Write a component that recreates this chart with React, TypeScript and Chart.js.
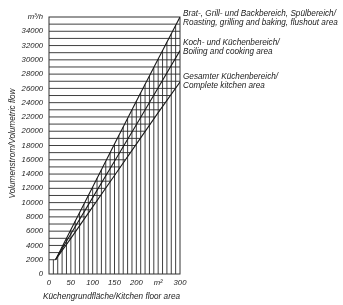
import React, { useEffect, useRef } from "react";
import { Chart, registerables } from "chart.js";

Chart.register(...registerables);

const floorArea = [15, 50, 100, 150, 200, 250, 300];
const roastingFlow = [2000, 6200, 12200, 18200, 24200, 30100, 36000];
const boilingFlow = [2000, 5600, 10700, 15800, 20900, 26100, 31300];
const completeFlow = [2000, 5000, 9400, 13800, 18200, 22600, 26900];

const seriesLabels = [
  ["Brat-, Grill- und Backbereich, Spülbereich/", "Roasting, grilling and baking, flushout area"],
  ["Koch- und Küchenbereich/", "Boiling and cooking area"],
  ["Gesamter Küchenbereich/", "Complete kitchen area"],
];
const xTitle = "Küchengrundfläche/Kitchen floor area";
const yTitle = "Volumenstrom/Volumetric flow";
const xUnitLabel = "m²";
const yUnitLabel = "m³/h";

const FONT = "'Liberation Sans', Arial, sans-serif";
const INK = "#222";

function interpY(xs: number[], ys: number[], x: number) {
  if (x <= xs[0]) return ys[0];
  for (let i = 1; i < xs.length; i++) {
    if (x <= xs[i]) {
      const t = (x - xs[i - 1]) / (xs[i] - xs[i - 1]);
      return ys[i - 1] + t * (ys[i] - ys[i - 1]);
    }
  }
  return ys[ys.length - 1];
}
function interpX(xs: number[], ys: number[], y: number) {
  if (y <= ys[0]) return xs[0];
  for (let i = 1; i < ys.length; i++) {
    if (y <= ys[i]) {
      const t = (y - ys[i - 1]) / (ys[i] - ys[i - 1]);
      return xs[i - 1] + t * (xs[i] - xs[i - 1]);
    }
  }
  return Infinity;
}

const gridPlugin = {
  id: "clippedGrid",
  beforeDatasetsDraw(chart: any) {
    const { ctx, scales } = chart;
    const xs = scales.x, ys = scales.y;
    ctx.save();
    ctx.strokeStyle = "#2a2a2a";
    ctx.lineWidth = 0.9;
    ctx.beginPath();
    for (let v = 2000; v <= 35000; v += 1000) {
      const xe = Math.min(xs.max, interpX(floorArea, completeFlow, v));
      const py = ys.getPixelForValue(v);
      ctx.moveTo(xs.getPixelForValue(xs.min), py);
      ctx.lineTo(xs.getPixelForValue(xe), py);
    }
    for (let x = 10; x < xs.max; x += 10) {
      const yt = interpY(floorArea, roastingFlow, x);
      const px = xs.getPixelForValue(x);
      ctx.moveTo(px, ys.getPixelForValue(0));
      ctx.lineTo(px, ys.getPixelForValue(yt));
    }
    ctx.stroke();
    ctx.lineWidth = 1;
    ctx.strokeStyle = "#333";
    const l = xs.getPixelForValue(xs.min), r = xs.getPixelForValue(xs.max);
    const t = ys.getPixelForValue(ys.max), b = ys.getPixelForValue(ys.min);
    ctx.strokeRect(l, t, r - l, b - t);
    ctx.restore();
  },
};

const textPlugin = {
  id: "annotTexts",
  afterDraw(chart: any) {
    const { ctx, chartArea } = chart;
    ctx.save();
    ctx.fillStyle = INK;
    ctx.font = `italic 8.2px ${FONT}`;
    ctx.textBaseline = "middle";
    ctx.textAlign = "left";
    const offsets = [[-3, 6], [25.7, 35], [59.7, 69]];
    seriesLabels.forEach((lines, i) => {
      lines.forEach((ln, j) => {
        ctx.fillText(ln, chartArea.right + 3, chartArea.top + offsets[i][j]);
      });
    });
    ctx.textAlign = "center";
    ctx.fillText(xTitle, (chartArea.left + chartArea.right) / 2 - 3, chartArea.bottom + 23);
    ctx.translate(12.5, (chartArea.top + chartArea.bottom) / 2 - 2);
    ctx.rotate(-Math.PI / 2);
    ctx.fillText(yTitle, 0, 0);
    ctx.restore();
  },
};

export default function App() {
  const ref = useRef<HTMLCanvasElement>(null);
  useEffect(() => {
    const mk = (ys: number[]) => ({
      data: floorArea.map((x, i) => ({ x, y: ys[i] })),
      showLine: true,
      borderColor: "#1a1a1a",
      borderWidth: 1.1,
      pointRadius: 0,
      tension: 0,
    });
    const chart = new Chart(ref.current!, {
      type: "scatter",
      data: { datasets: [mk(roastingFlow), mk(boilingFlow), mk(completeFlow)] },
      options: {
        animation: false,
        responsive: false,
        layout: { padding: { left: 0, right: 163, top: 17, bottom: 0 } },
        plugins: { legend: { display: false }, tooltip: { enabled: false } },
        scales: {
          x: {
            type: "linear",
            min: 0,
            max: 300,
            grid: { display: false, drawTicks: false },
            border: { display: false },
            ticks: {
              stepSize: 50,
              autoSkip: false,
              maxRotation: 0,
              padding: 4,
              color: INK,
              font: { family: FONT, size: 7.7, style: "italic" },
              callback: (v: any) => (v === 250 ? xUnitLabel : String(v)),
            },
            afterFit: (s: any) => { s.height = 31; },
          },
          y: {
            type: "linear",
            min: 0,
            max: 36000,
            grid: { display: false, drawTicks: false },
            border: { display: false },
            ticks: {
              stepSize: 2000,
              autoSkip: false,
              padding: 6,
              color: INK,
              font: { family: FONT, size: 7.7, style: "italic" },
              callback: (v: any) => (v === 36000 ? yUnitLabel : String(v)),
            },
            afterFit: (s: any) => { s.width = 49; },
          },
        },
      },
      plugins: [gridPlugin, textPlugin],
    });
    return () => chart.destroy();
  }, []);
  return (
    <div style={{ position: "fixed", left: 0, top: 0, width: 343, height: 305, background: "#fff" }}>
      <canvas ref={ref} width={343} height={305} style={{ width: 343, height: 305 }} />
    </div>
  );
}
